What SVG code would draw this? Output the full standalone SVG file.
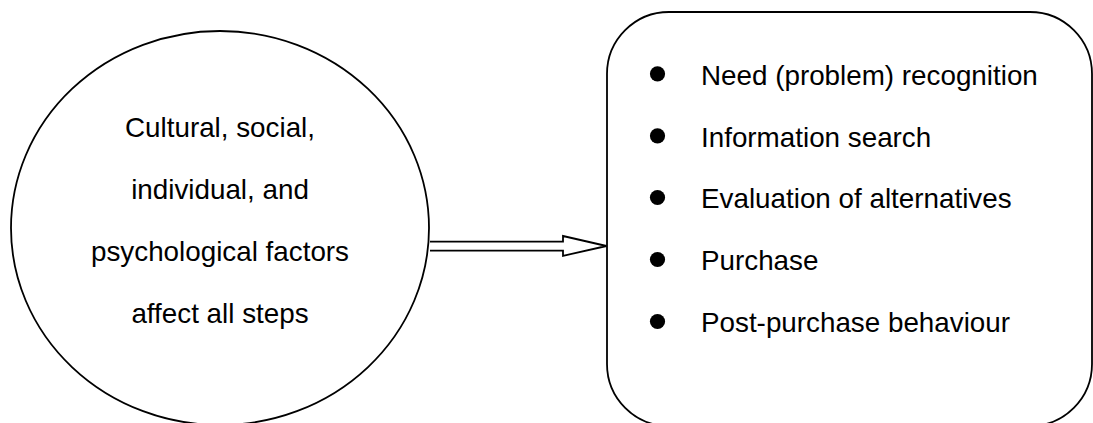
<svg xmlns="http://www.w3.org/2000/svg" width="1093" height="423" viewBox="0 0 1093 423">
  <style>
    .shape { fill: #ffffff; stroke: #000000; stroke-width: 1.8; }
    .label { font-family: "Liberation Sans", Arial, sans-serif; font-size: 27.8px; fill: #000000; }
    .bullet { fill: #000000; }
  </style>
  <rect width="1093" height="423" fill="#ffffff"/>

  <!-- Influencing factors -->
  <g id="factors">
    <ellipse class="shape" cx="220" cy="228" rx="209" ry="197"/>
    <text class="label" text-anchor="middle" x="220" y="137">Cultural, social,</text>
    <text class="label" text-anchor="middle" x="220" y="199">individual, and</text>
    <text class="label" text-anchor="middle" x="220" y="261">psychological factors</text>
    <text class="label" text-anchor="middle" x="220" y="323">affect all steps</text>
  </g>

  <!-- Hollow block arrow -->
  <g id="connectors">
    <path class="shape" stroke-width="1.6" stroke-linejoin="miter"
          d="M430,241.7 L563,241.7 L563,236 L606.5,246 L563,255.8 L563,250.7 L430,250.7"/>
  </g>

  <!-- Decision process steps -->
  <g id="steps">
    <rect class="shape" x="607" y="12" width="485" height="414" rx="62" ry="62"/>
    <circle class="bullet" cx="657.5" cy="73.8" r="7.6"/>
    <circle class="bullet" cx="657.5" cy="135.8" r="7.6"/>
    <circle class="bullet" cx="657.5" cy="197.5" r="7.6"/>
    <circle class="bullet" cx="657.5" cy="259.5" r="7.6"/>
    <circle class="bullet" cx="657.5" cy="321.5" r="7.6"/>
    <text class="label" x="701" y="84.5">Need (problem) recognition</text>
    <text class="label" x="701" y="146.5">Information search</text>
    <text class="label" x="701" y="208">Evaluation of alternatives</text>
    <text class="label" x="701" y="270">Purchase</text>
    <text class="label" x="701" y="332">Post-purchase behaviour</text>
  </g>
</svg>
